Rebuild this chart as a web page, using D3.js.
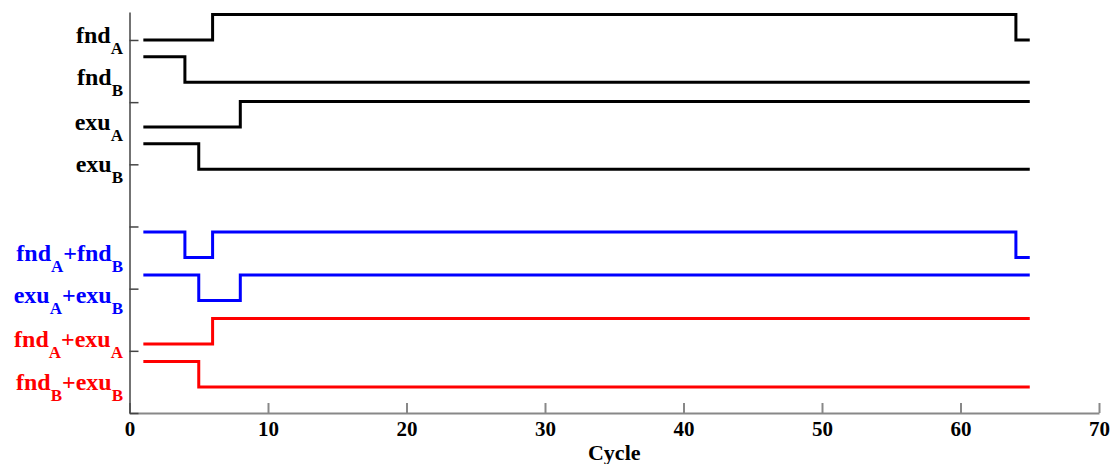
<!DOCTYPE html>
<html>
<head>
<meta charset="utf-8">
<script src="https://cdn.jsdelivr.net/npm/d3@7"></script>
<style>
  body { margin: 0; background: #fff; }
  text { font-family: "Liberation Serif", "Times New Roman", serif; font-weight: bold; }
</style>
</head>
<body>
<div id="chart"></div>
<script>
// signal names (label parts: [text, subscript] pairs)
const labels = [
    [["fnd", "A"]],
    [["fnd", "B"]],
    [["exu", "A"]],
    [["exu", "B"]],
    [["fnd", "A"], ["+fnd", "B"]],
    [["exu", "A"], ["+exu", "B"]],
    [["fnd", "A"], ["+exu", "A"]],
    [["fnd", "B"], ["+exu", "B"]]
];
const colors = ["#000", "#000", "#000", "#000", "#0000ff", "#0000ff", "#ff0000", "#ff0000"];

// low level of each trace on the y axis, and height of a "1"
const offsets = [6.0, 5.32, 4.6, 3.92, 2.5, 1.81, 1.11, 0.42];
const amplitude = 0.41;

// change points: [cycle, value]
const signals = [
    [[1, 0], [6, 1], [64, 0], [65, 0]],
    [[1, 1], [4, 0], [65, 0]],
    [[1, 0], [8, 1], [65, 1]],
    [[1, 1], [5, 0], [65, 0]],
    [[1, 1], [4, 0], [6, 1], [64, 0], [65, 0]],
    [[1, 1], [5, 0], [8, 1], [65, 1]],
    [[1, 0], [6, 1], [65, 1]],
    [[1, 1], [5, 0], [65, 0]]
];

const xTicks = [0, 10, 20, 30, 40, 50, 60, 70];
const yTicks = [0, 1, 2, 3, 4, 5, 6];

const width = 1110, height = 464;
const margin = { left: 129.5, right: 11, top: 12, bottom: 51 };

const svg = d3.select("#chart")
    .append("svg")
    .attr("width", width)
    .attr("height", height);

const x = d3.scaleLinear().domain([0, 70]).range([margin.left, width - margin.right]);
const y = d3.scaleLinear().domain([0, 6.45]).range([height - margin.bottom, margin.top]);

// x axis
const xAxis = svg.append("g")
    .attr("transform", `translate(0,${height - margin.bottom})`)
    .call(d3.axisBottom(x).tickValues(xTicks).tickSizeInner(-10).tickSizeOuter(0).tickPadding(8));
xAxis.selectAll("path, line").attr("stroke", "#888").attr("stroke-width", 2);
xAxis.selectAll("text")
    .attr("font-size", 21)
    .attr("font-family", "Liberation Serif, serif")
    .attr("font-weight", "bold")
    .attr("fill", "#000");

// y axis (no labels)
const yAxis = svg.append("g")
    .attr("transform", `translate(${margin.left},0)`)
    .call(d3.axisLeft(y).tickValues(yTicks).tickSizeInner(-9).tickSizeOuter(0).tickFormat(""));
yAxis.selectAll("path, line").attr("stroke", "#444").attr("stroke-width", 1.5);

// traces
const line = d3.line()
    .x((d) => x(d[0]))
    .y((d) => d[1])
    .curve(d3.curveStepAfter);

svg.append("g")
    .selectAll("path")
    .data(signals)
    .enter()
    .append("path")
    .attr("d", (d, i) => line(d.map((p) => [p[0], y(offsets[i] + p[1] * amplitude)])))
    .attr("fill", "none")
    .attr("stroke", (d, i) => colors[i])
    .attr("stroke-width", 3)
    .attr("stroke-linejoin", "miter");

// trace labels
const lab = svg.append("g")
    .selectAll("text")
    .data(labels)
    .enter()
    .append("text")
    .attr("x", 123)
    .attr("y", (d, i) => y(offsets[i]) + 3)
    .attr("text-anchor", "end")
    .attr("fill", (d, i) => colors[i])
    .attr("font-size", 24);

lab.each(function (parts) {
    const t = d3.select(this);
    parts.forEach((p, j) => {
        t.append("tspan").attr("dy", j === 0 ? 0 : -11).text(p[0]);
        t.append("tspan").attr("dy", 11).attr("font-size", 17).text(p[1]);
    });
});

// x axis title
svg.append("text")
    .attr("x", (x(0) + x(70)) / 2)
    .attr("y", 460)
    .attr("text-anchor", "middle")
    .attr("font-size", 22)
    .text("Cycle");
</script>
</body>
</html>
